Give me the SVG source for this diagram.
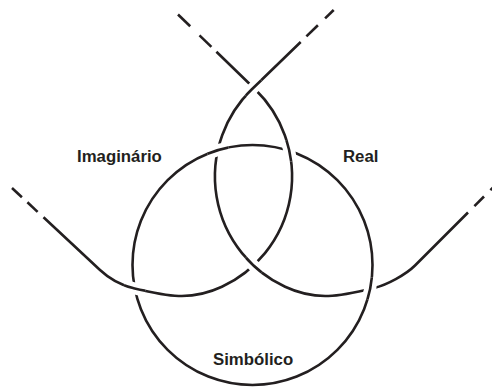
<svg xmlns="http://www.w3.org/2000/svg" width="492" height="387" viewBox="0 0 492 387">
<style>
.ink{fill:none;stroke:#231f20;stroke-width:2.6;stroke-linecap:butt}
.halo{fill:none;stroke:#ffffff;stroke-width:12;stroke-linecap:butt}
.lbl{font-family:"Liberation Sans",Arial,Helvetica,sans-serif;font-weight:bold;font-size:16.8px;fill:#231f20}
</style>
<defs>
<path id="pL1" d="M216.4,51.7 L255.1,89.3 A121.6,121.6 0 0 1 221.9,286.8 C190.2,301.6 167,296 133,288 C120.4,285 109.5,278.9 100,270 L43.5,217.3"/>
<path id="pL2" d="M300.7,42 L251.9,89.3 A121.6,121.6 0 0 0 285.1,286.8 C316.8,301.6 340,296 374,288 C386.6,285 405.8,274.7 415,265.5 L468,212.5"/>
<circle id="pC" cx="252.5" cy="265" r="120"/>
<clipPath id="k1"><circle cx="253.5" cy="87.8" r="11"/></clipPath>
<clipPath id="k2"><circle cx="253.5" cy="265.5" r="11"/></clipPath>
<clipPath id="k3"><circle cx="217.7" cy="150.2" r="11"/></clipPath>
<clipPath id="k4"><circle cx="289.3" cy="150.8" r="11"/></clipPath>
<clipPath id="k5"><circle cx="134.6" cy="288.2" r="11"/></clipPath>
<clipPath id="k6"><circle cx="370.3" cy="288.6" r="11"/></clipPath>
</defs>
<rect width="492" height="387" fill="#ffffff"/>
<g id="simbolico">
<use href="#pC" class="ink"/>
<text class="lbl" x="213" y="365">Simbólico</text>
</g>
<g id="imaginario">
<use href="#pL1" class="ink"/>
<line class="ink" x1="178" y1="14.5" x2="190.2" y2="26.3"/>
<line class="ink" x1="199.5" y1="35.4" x2="211.4" y2="46.9"/>
<line class="ink" x1="12" y1="188" x2="21.9" y2="197.2"/>
<line class="ink" x1="27.4" y1="202.3" x2="37.6" y2="211.9"/>
<text class="lbl" x="77" y="162">Imaginário</text>
</g>
<g id="real">
<use href="#pL2" class="ink"/>
<line class="ink" x1="333.7" y1="10" x2="325.1" y2="18.4"/>
<line class="ink" x1="317.9" y1="25.3" x2="306.4" y2="36.4"/>
<line class="ink" x1="474.4" y1="206.1" x2="484" y2="196.5"/>
<line class="ink" x1="490.4" y1="190.1" x2="497" y2="183.5"/>
<text class="lbl" x="343" y="162">Real</text>
</g>
<g id="connectors">
<g clip-path="url(#k1)"><use href="#pL2" class="halo"/><use href="#pL2" class="ink"/></g>
<g clip-path="url(#k2)"><use href="#pL2" class="halo"/><use href="#pL2" class="ink"/></g>
<g clip-path="url(#k3)"><use href="#pC" class="halo"/><use href="#pC" class="ink"/></g>
<g clip-path="url(#k4)"><use href="#pL1" class="halo"/><use href="#pL1" class="ink"/></g>
<g clip-path="url(#k5)"><use href="#pL1" class="halo"/><use href="#pL1" class="ink"/></g>
<g clip-path="url(#k6)"><use href="#pC" class="halo"/><use href="#pC" class="ink"/></g>
</g>
</svg>
